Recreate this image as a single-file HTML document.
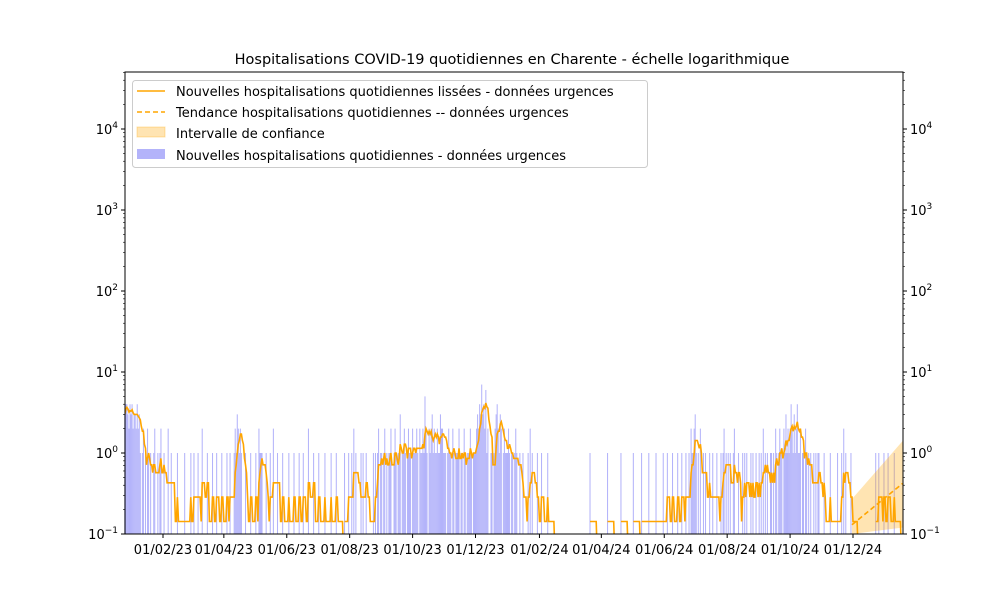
<!DOCTYPE html>
<html><head><meta charset="utf-8"><style>
body{margin:0;background:#fff;}
svg{font-family:"DejaVu Sans","Liberation Sans",sans-serif;}
</style></head><body>
<svg id="chart" width="1000" height="600" xmlns="http://www.w3.org/2000/svg">
<rect width="1000" height="600" fill="#fff"/>
<text x="512" y="64" font-size="14.5" text-anchor="middle">Hospitalisations COVID-19 quotidiennes en Charente - échelle logarithmique</text>
<g id="bars"></g>
<g id="band"></g>
<g id="lines"></g>
<g id="axes"></g>
<g>
<rect x="132.5" y="80.5" width="515" height="87" rx="3" fill="#fff" fill-opacity="0.8" stroke="#ccc"/>
<line x1="137" y1="91" x2="165" y2="91" stroke="#ffa500" stroke-width="1.6"/>
<text x="176" y="96" font-size="13">Nouvelles hospitalisations quotidiennes lissées - données urgences</text>
<line x1="137" y1="112" x2="165" y2="112" stroke="#ffa500" stroke-width="1.6" stroke-dasharray="5,3"/>
<text x="176" y="117" font-size="13">Tendance hospitalisations quotidiennes -- données urgences</text>
<rect x="137" y="127" width="28" height="10" fill="#ffa500" fill-opacity="0.3" stroke="#ffa500" stroke-opacity="0.3"/>
<text x="176" y="138" font-size="13">Intervalle de confiance</text>
<rect x="137" y="149" width="28" height="10" fill="#b3b3fa"/>
<text x="176" y="160" font-size="13">Nouvelles hospitalisations quotidiennes - données urgences</text>
</g>
</svg>
<script>
const startDate = "2022-12-26";
const dailyValues = [
3,4,4,3,2,4,3,4,2,3,3,2,4,2,3,
1,0,1,2,0,1,0,2,1,0,
1,0,0,1,2,0,0,1,0,1,2,0,
0,1,0,0,0,2,0,0,1,0,0,0,0,0,1,0,0,0,0,0,0,1,0,0,0,0,0,1,
0,0,1,0,0,0,1,0,0,0,2,0,0,0,0,1,0,0,0,0,1,0,0,0,1,0,0,0,0,1,0,
0,0,0,1,0,0,1,0,0,0,1,2,1,3,2,1,2,1,0,0,0,1,0,0,0,0,1,0,0,0,
0,1,0,0,2,1,1,1,0,0,0,1,0,0,0,1,0,0,2,0,0,0,1,0,0,0,0,1,0,0,0,
0,0,1,0,0,0,0,1,0,0,0,0,1,0,0,0,1,0,0,0,0,2,0,0,0,0,1,0,0,0,
0,1,0,0,0,0,0,1,0,0,0,0,0,1,0,0,0,0,1,0,0,0,0,0,0,0,1,0,0,0,1,
0,0,1,0,2,0,1,0,0,0,0,1,0,1,0,0,1,0,0,0,0,0,0,1,0,1,0,1,2,0,1,
1,0,1,2,0,1,0,1,1,2,0,0,1,2,1,0,1,1,3,0,1,1,2,1,0,1,2,1,1,0,
2,1,1,1,2,1,0,2,1,1,2,1,5,2,1,0,2,1,2,3,1,2,1,1,2,1,1,3,2,2,1,
1,1,0,1,2,1,1,0,2,1,0,1,1,1,2,0,1,1,0,2,1,0,1,1,1,2,1,0,1,1,
1,2,3,2,4,3,7,3,4,2,6,1,2,0,0,1,1,0,1,2,3,4,2,1,3,2,0,1,2,1,1,
1,2,1,0,1,1,0,1,2,1,0,0,1,0,0,1,0,0,0,0,1,0,2,0,1,0,0,0,0,1,0,
0,0,1,0,0,0,0,0,1,0,0,0,0,0,0,0,0,0,0,0,0,0,0,0,0,0,0,0,0,
0,0,0,0,0,0,0,0,0,0,0,0,0,0,0,0,0,0,0,0,1,0,0,0,0,0,0,0,0,0,0,
0,0,0,0,0,0,1,0,0,0,0,0,0,0,0,0,0,0,0,1,0,0,0,0,0,0,0,0,0,0,
0,1,0,0,0,0,0,0,0,1,0,0,0,0,0,0,1,0,0,0,0,0,0,1,0,0,0,0,0,0,1,
0,0,0,1,0,0,0,0,1,0,0,0,0,1,0,0,0,1,0,0,0,1,0,0,1,0,2,1,1,2,
3,1,0,1,0,2,0,0,1,0,1,0,0,0,1,0,0,1,0,0,0,1,0,0,0,1,0,1,2,0,1,
0,1,0,1,0,0,1,2,0,0,0,1,0,0,0,1,0,1,0,1,0,0,0,1,0,1,0,0,1,0,0,
1,0,1,0,2,0,1,0,1,0,0,1,1,0,1,0,2,1,0,1,2,1,1,0,2,1,3,1,2,1,
2,4,2,1,3,1,2,4,1,1,2,0,1,1,0,2,1,0,1,0,1,0,0,1,0,1,0,1,1,0,0,
0,0,1,0,0,0,0,0,1,0,0,0,0,0,0,1,0,0,0,1,0,2,0,1,0,0,0,0,1,0,
0,0,0,0,0,0,0,0,0,0,0,0,0,0,0,0,0,0,0,0,0,0,1,0,0,1,0,0,0,0,1,
0,0,0,1,0,0,0,0,0,1,0,0,0,0,0,0,0,0
];
const trendDates = ["2024-11-30","2025-01-18"];
const trendValues = [0.13, 0.42];
const ciLower = [0.1, 0.12];
const ciUpper = [0.27, 1.4];
const xTickLabels = ["01/02/23","01/04/23","01/06/23","01/08/23","01/10/23","01/12/23","01/02/24","01/04/24","01/06/24","01/08/24","01/10/24","01/12/24"];
const xTickDates = ["2023-02-01","2023-04-01","2023-06-01","2023-08-01","2023-10-01","2023-12-01","2024-02-01","2024-04-01","2024-06-01","2024-08-01","2024-10-01","2024-12-01"];
const yTickExps = [-1,0,1,2,3,4];

const NS="http://www.w3.org/2000/svg";
const L=125,R=903,T=72,B=534;
const DAY=86400000;
const d0=Date.parse("2023-02-01"), d1=Date.parse("2024-12-01");
function xs(t){return 163+(t-d0)/(d1-d0)*(853-163);}
function ys(v){return B-(Math.log10(v)+1)*81;}
function mk(tag,attrs,parent){const e=document.createElementNS(NS,tag);for(const k in attrs)e.setAttribute(k,attrs[k]);parent.appendChild(e);return e;}
const s0=Date.parse(startDate);
const defs=mk('defs',{},document.getElementById('chart'));
const cp=mk('clipPath',{id:'clip'},defs);mk('rect',{x:L,y:T,width:R-L,height:B-T},cp);
const gB=document.getElementById('bars');
dailyValues.forEach((v,i)=>{
  if(v<=0)return;
  const x=xs(s0+i*DAY);
  const r=mk('rect',{x:x-0.5,y:ys(v),width:1.03,height:B-ys(v),fill:'#b3b3fa'},gB);
  
  
});
const gL=document.getElementById('lines');
let seg=[];const segs=[];
dailyValues.forEach((v,i)=>{
  let s=0,n=0;for(let k=i-6;k<=i;k++){if(k>=0){s+=dailyValues[k];n++;}}
  const m=s/n;
  const x=xs(s0+i*DAY);
  if(m>0){seg.push([x,Math.min(B,ys(m))]);}else{if(seg.length){seg.push([x,B+20]);segs.push(seg);}seg=[];}
});
if(seg.length)segs.push(seg);
segs.forEach(sg=>{
  const p=mk('path',{d:'M'+sg.map(p=>p[0].toFixed(1)+','+p[1].toFixed(1)).join('L'),fill:'none',stroke:'#ffa500','stroke-width':1.6,'clip-path':'url(#clip)'},gL);
  
  
});
const tx=trendDates.map(d=>xs(Date.parse(d)));
const band=mk('path',{d:`M${tx[0]},${ys(ciUpper[0])}L${tx[1]},${ys(ciUpper[1])}L${tx[1]},${ys(ciLower[1])}L${tx[0]},${ys(ciLower[0])}Z`,fill:'#ffa500','fill-opacity':0.3,'clip-path':'url(#clip)'},document.getElementById('band'));


const tr=mk('line',{x1:tx[0],y1:ys(trendValues[0]),x2:tx[1],y2:ys(trendValues[1]),stroke:'#ffa500','stroke-width':1.6,'stroke-dasharray':'5,3'},gL);


const gA=document.getElementById('axes');
const frame=mk('rect',{x:L,y:T,width:R-L,height:B-T,fill:'none',stroke:'#000','stroke-width':1},gA);


xTickDates.forEach((d,i)=>{
  const x=xs(Date.parse(d));
  mk('line',{x1:x,y1:B,x2:x,y2:B+4,stroke:'#000'},gA);
  const t=mk('text',{x:x,y:B+20,'font-size':13,'text-anchor':'middle'},gA);
  t.textContent=xTickLabels[i];
  
  
});
yTickExps.forEach(e=>{
  const y=ys(Math.pow(10,e));
  mk('line',{x1:L-4,y1:y,x2:L,y2:y,stroke:'#000'},gA);
  mk('line',{x1:R,y1:y,x2:R+4,y2:y,stroke:'#000'},gA);
  for(let k=2;k<10;k++){const ym=ys(k*Math.pow(10,e));if(ym>=T){mk('line',{x1:L-2,y1:ym,x2:L,y2:ym,stroke:'#000','stroke-width':0.6},gA);mk('line',{x1:R,y1:ym,x2:R+2,y2:ym,stroke:'#000','stroke-width':0.6},gA);}}
  [[L-7,'end'],[R+7,'start']].forEach(([x,a])=>{
    const t=mk('text',{x:x,y:y+5,'font-size':13,'text-anchor':a},gA);
    t.textContent='10';
    const s=mk('tspan',{dy:-6,'font-size':9},t);s.textContent=String(e).replace('-','−');
    
    
  });
});
</script>
</body></html>
